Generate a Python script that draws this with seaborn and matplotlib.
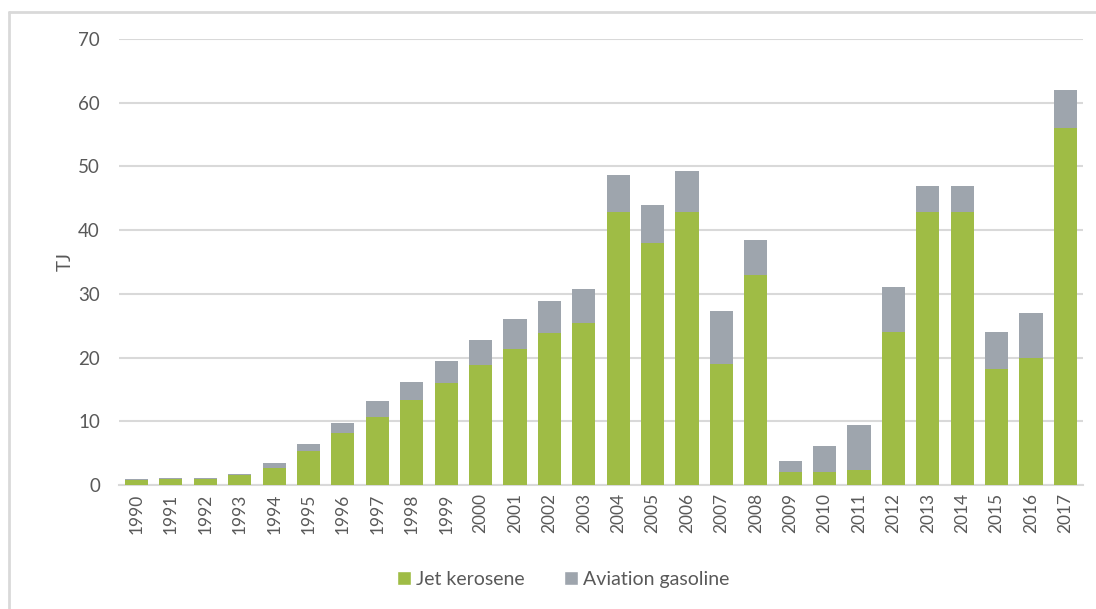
import matplotlib
matplotlib.use("Agg")
import matplotlib.pyplot as plt
from matplotlib.patches import Patch
import seaborn as sns
import pandas as pd

years = [str(y) for y in range(1990, 2018)]
jet_kerosene = [0.75, 0.95, 0.95, 1.5, 2.7, 5.4, 8.2, 10.7, 13.4, 16.0, 18.8, 21.3,
                23.8, 25.4, 42.9, 38.0, 42.9, 19.0, 33.0, 2.1, 2.1, 2.4, 24.0, 42.9,
                42.9, 18.2, 20.0, 56.0]
aviation_gasoline = [0.15, 0.15, 0.15, 0.2, 0.7, 1.1, 1.6, 2.5, 2.8, 3.5, 3.9, 4.7,
                     5.0, 5.4, 5.8, 5.9, 6.4, 8.3, 5.4, 1.6, 4.0, 7.0, 7.0, 4.0,
                     4.0, 5.8, 7.0, 6.0]

green = "#9FBC45"
grey = "#9EA5AD"
text_col = "#595959"
grid_col = "#D9D9D9"

sns.set_theme(style="white")
plt.rcParams["font.family"] = ["Lato", "DejaVu Sans"]

df = pd.DataFrame({
    "year": years,
    "jet": jet_kerosene,
    "total": [j + a for j, a in zip(jet_kerosene, aviation_gasoline)],
})

fig = plt.figure(figsize=(10.96, 6.09), dpi=100)
ax = fig.add_axes([0.1089, 0.2036, 0.8789, 0.7324])

# stacked columns: total height in grey, jet kerosene share in green on top
sns.barplot(data=df, x="year", y="total", color=grey, saturation=1, width=0.67,
            linewidth=0, ax=ax, zorder=3)
sns.barplot(data=df, x="year", y="jet", color=green, saturation=1, width=0.67,
            linewidth=0, ax=ax, zorder=4)

ax.set_ylim(0, 70)
ax.set_xlim(-0.5, len(years) - 0.5)
ax.set_yticks(range(0, 71, 10))
ax.yaxis.grid(True, color=grid_col, linewidth=1.5, zorder=0)
ax.set_axisbelow(True)
for s in ["top", "right", "left"]:
    ax.spines[s].set_visible(False)
ax.spines["bottom"].set_color(grid_col)
ax.spines["bottom"].set_linewidth(1.5)

ax.tick_params(axis="y", length=0, pad=14, labelsize=13.5, labelcolor=text_col)
ax.tick_params(axis="x", length=0, pad=6, labelsize=12.5, labelcolor=text_col,
               labelrotation=90)
ax.set_xlabel("")
ax.set_ylabel("TJ", fontsize=13.5, color=text_col, labelpad=3)

handles = [Patch(facecolor=green, label="Jet kerosene"),
           Patch(facecolor=grey, label="Aviation gasoline")]
fig.legend(handles=handles, loc="center", bbox_to_anchor=(0.514, 0.049), ncol=2,
           frameon=False, fontsize=14, labelcolor=text_col, handlelength=0.7,
           handleheight=0.7, handletextpad=0.3, columnspacing=2.0)

# chart frame along the top and left edges
fig.add_artist(plt.Line2D([0.0082, 0.0082], [0, 0.980], color=grid_col,
                          linewidth=2, transform=fig.transFigure))
fig.add_artist(plt.Line2D([0.0082, 1.0], [0.980, 0.980], color=grid_col,
                          linewidth=2, transform=fig.transFigure))

fig.savefig("out.png", dpi=100)
